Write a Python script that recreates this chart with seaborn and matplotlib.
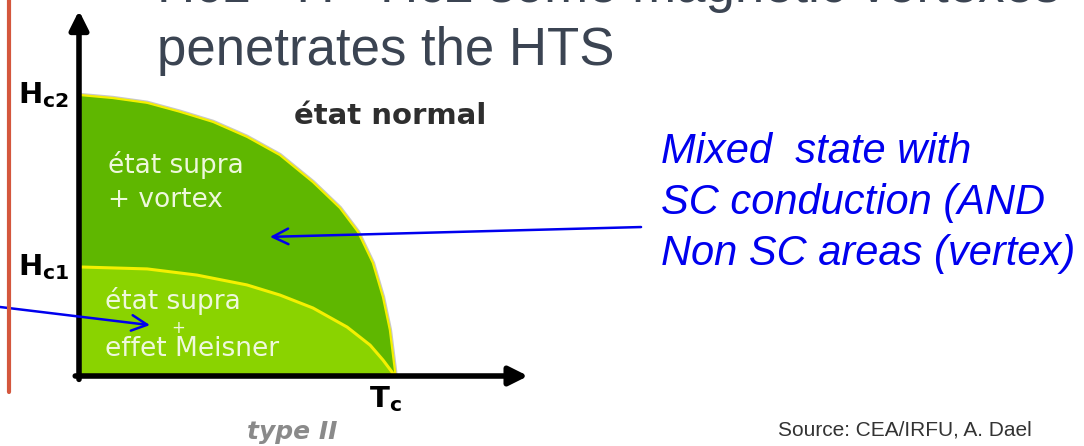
import matplotlib.pyplot as plt
import seaborn as sns

# Phase boundaries (T in units of Tc, H in units of Hc2)
t_hc2 = [0.0, 0.108, 0.217, 0.322, 0.427, 0.535, 0.640, 0.745, 0.831, 0.889,
         0.936, 0.968, 0.990, 1.006, 1.008]
h_hc2 = [1.0, 0.989, 0.972, 0.940, 0.904, 0.851, 0.786, 0.690, 0.598, 0.512,
         0.402, 0.281, 0.164, 0.021, 0.0]

t_hc1 = [0.0, 0.217, 0.376, 0.535, 0.640, 0.745, 0.854, 0.927, 0.968, 0.997, 1.003]
h_hc1 = [0.388, 0.381, 0.359, 0.324, 0.288, 0.242, 0.174, 0.110, 0.057, 0.014, 0.0]

hc1_level = 0.388
hc2_level = 1.0

sns.set_theme(style='white')
plt.rcParams['font.family'] = ['Liberation Sans', 'DejaVu Sans']

fig = plt.figure(figsize=(10.84, 4.46), dpi=100)
ax = fig.add_axes([79 / 1084, 70 / 446, 471 / 1084, 371 / 446])
ax.set_xlim(0, 1.5)
ax.set_ylim(0, 1.32)
ax.set_axis_off()

# coloured regions
ax.fill_between(t_hc2, h_hc2, 0, color='#5fb700', lw=0, zorder=1)
ax.fill_between(t_hc1, h_hc1, 0, color='#8ad300', lw=0, zorder=2)
ax.plot(t_hc2, h_hc2, color='#c8c8c8', lw=3.2, zorder=0)
sns.lineplot(x=t_hc2, y=h_hc2, sort=False, color='#f4f000', lw=1.6, ax=ax, zorder=3)
sns.lineplot(x=t_hc1, y=h_hc1, sort=False, color='#f4f000', lw=2.2, ax=ax, zorder=3)

# axes arrows
arrow = dict(arrowstyle='-|>', lw=4, color='black', mutation_scale=28, shrinkA=0, shrinkB=0)
ax.annotate('', xy=(0, 1.30), xytext=(0, -0.012), arrowprops=arrow, annotation_clip=False, zorder=4)
ax.annotate('', xy=(1.43, 0), xytext=(-0.012, 0), arrowprops=arrow, annotation_clip=False, zorder=4)

# axis labels
ax.text(-0.03, hc2_level, r'$\mathbf{H_{c2}}$', ha='right', va='center', fontsize=21,
        family='DejaVu Sans', color='black', clip_on=False)
ax.text(-0.03, hc1_level, r'$\mathbf{H_{c1}}$', ha='right', va='center', fontsize=21,
        family='DejaVu Sans', color='black', clip_on=False)
ax.text(0.975, -0.03, r'$\mathbf{T_{c}}$', ha='center', va='top', fontsize=21,
        family='DejaVu Sans', color='black', clip_on=False)
ax.text(0.68, -0.2, 'type II', ha='center', va='center', fontsize=18, style='italic',
        weight='bold', family='DejaVu Sans', color='#8a8a8a', clip_on=False)

# region labels
ax.text(0.99, 0.925, 'état normal', ha='center', va='center', fontsize=21, weight='bold',
        family='DejaVu Sans', color='#2e2e2e')
white = '#eef8dc'
ax.text(0.092, 0.75, 'état supra', ha='left', va='center', fontsize=19,
        family='DejaVu Sans', color=white, zorder=5)
ax.text(0.092, 0.626, '+ vortex', ha='left', va='center', fontsize=19,
        family='DejaVu Sans', color=white, zorder=5)
ax.text(0.083, 0.268, 'état supra', ha='left', va='center', fontsize=19,
        family='DejaVu Sans', color=white, zorder=5)
ax.text(0.315, 0.172, '+', ha='center', va='center', fontsize=12,
        family='DejaVu Sans', color=white, zorder=5)
ax.text(0.083, 0.095, 'effet Meisner', ha='left', va='center', fontsize=19,
        family='DejaVu Sans', color=white, zorder=5)

# blue pointer arrows
blue = dict(arrowstyle='->', lw=1.8, color='#0000ee', mutation_scale=28, shrinkA=0, shrinkB=0)
ax.annotate('', xy=(0.608, 0.495), xytext=(1.79, 0.53), arrowprops=blue,
            annotation_clip=False, zorder=6)
ax.annotate('', xy=(0.226, 0.181), xytext=(-0.27, 0.248), arrowprops=blue,
            annotation_clip=False, zorder=6)

# slide decorations
fig.add_artist(plt.Line2D([9 / 1084, 9 / 1084], [1, 1 - 392 / 446], color='#d4573d', lw=3))
fig.text(157 / 1084, 1 - 2 / 446, 'Hc1 <H <Hc2 some magnetic vortexes', ha='left',
         va='baseline', fontsize=38, color='#3b4452')
fig.text(157 / 1084, 1 - 65 / 446, 'penetrates the HTS', ha='left', va='baseline',
         fontsize=38, color='#3b4452')
blue_lines = ['Mixed  state with', 'SC conduction (AND', 'Non SC areas (vertex)']
for i, line in enumerate(blue_lines):
    fig.text(661 / 1084, 1 - (163 + 51 * i) / 446, line, ha='left', va='baseline',
             fontsize=30, style='italic', color='#0000ee')
fig.text(778 / 1084, 1 - 436 / 446, 'Source: CEA/IRFU, A. Dael', ha='left', va='baseline',
         fontsize=15, color='#333333')

fig.savefig('out.png', dpi=100)
